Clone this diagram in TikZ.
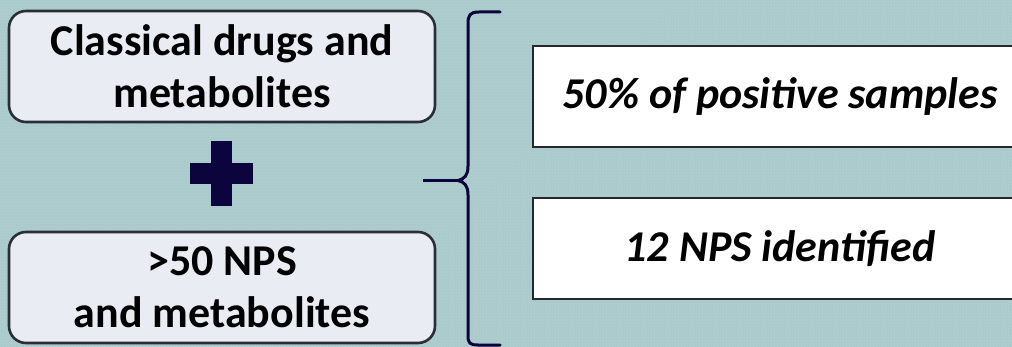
\documentclass[tikz,border=0pt]{standalone}
\usepackage{fontspec}
\setmainfont{Carlito}
\usetikzlibrary{patterns}
\definecolor{bgteal}{RGB}{170,202,203}
\definecolor{bgdot}{RGB}{196,222,222}
\definecolor{leftfill}{RGB}{233,236,242}
\definecolor{leftborder}{RGB}{42,46,56}
\definecolor{rightborder}{RGB}{40,40,44}
\definecolor{navy}{RGB}{12,4,60}
\tikzset{
  leftbox/.style={draw=leftborder, line width=2.6pt, fill=leftfill, rounded corners=17pt,
    minimum width=426pt, minimum height=111pt, inner sep=0pt, align=center,
    font=\fontsize{44}{52}\selectfont\bfseries},
  rightbox/.style={draw=rightborder, line width=1.8pt, fill=white,
    minimum width=494pt, minimum height=101pt, inner sep=0pt, align=center,
    font=\fontsize{44}{52}\selectfont\bfseries\itshape},
  bracestyle/.style={draw=navy, line width=3pt, line cap=round, line join=round}
}
\begin{document}
\begin{tikzpicture}[x=1pt,y=-1pt]
\useasboundingbox (0,0) rectangle (1012,347);
\fill[bgteal] (0,0) rectangle (1012,347);
\fill[pattern=dots, pattern color=bgdot] (0,0) rectangle (1012,347);
\node[leftbox] (classical) at (222,66.5) {Classical drugs and\\metabolites};
\node[leftbox] (nps) at (222,287.5) {>50 NPS\\and metabolites};
\fill[navy] (211,141) rectangle (232,206);
\fill[navy] (190,163) rectangle (253,184);
\node[rightbox] (positive) at (780,96.5) {50\% of positive samples};
\node[rightbox] (identified) at (780,248.5) {12 NPS identified};
\coordinate (cusp) at (458,180.5);
\coordinate (lineend) at (423,180.5);
\draw[bracestyle] (500,12) -- (479,12) .. controls (470,12) and (468,15) .. (468,24)
  -- (468,166) .. controls (468,176) and (464,179) .. (cusp)
  .. controls (464,182) and (468,185) .. (468,195)
  -- (468,336) .. controls (468,343) and (470,345) .. (478,345) -- (500,345);
\draw[bracestyle, line cap=butt] (lineend) -- (cusp);
\end{tikzpicture}
\end{document}
